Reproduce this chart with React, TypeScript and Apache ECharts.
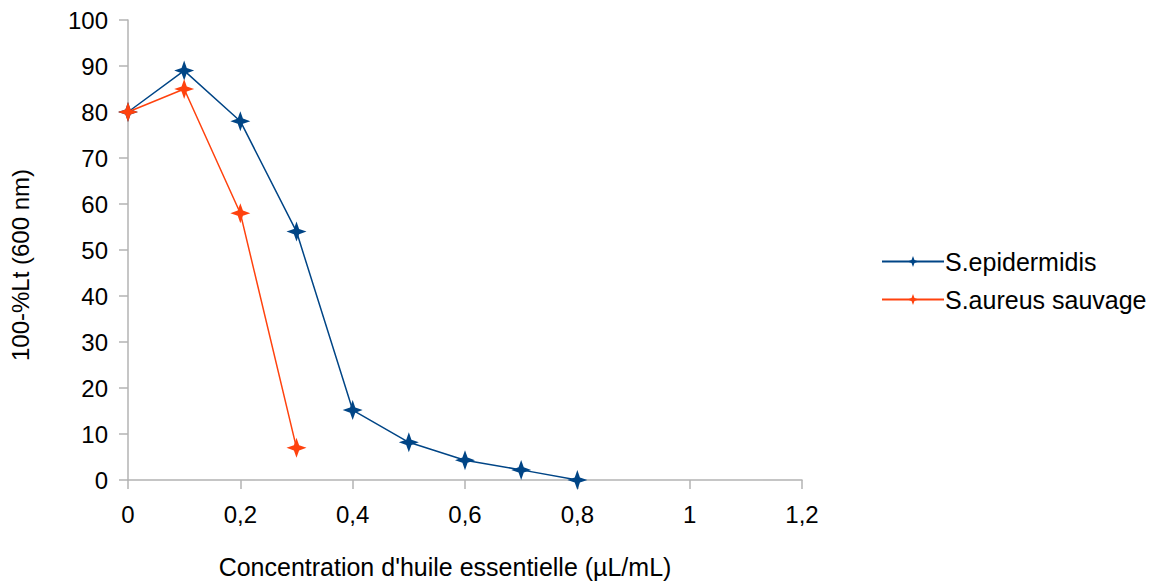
import React, { useEffect, useRef } from "react";
import * as echarts from "echarts";

const xValues = [0, 0.1, 0.2, 0.3, 0.4, 0.5, 0.6, 0.7, 0.8];
const epidermidis = [80, 89, 78, 54, 15.2, 8.2, 4.3, 2.2, 0];
const aureusX = [0, 0.1, 0.2, 0.3];
const aureus = [80, 85, 58, 7];
const seriesNames = ["S.epidermidis", "S.aureus sauvage"];

const star = "path://M0,-10 L2.6,-2.6 L10,0 L2.6,2.6 L0,10 L-2.6,2.6 L-10,0 L-2.6,-2.6 Z";
const font = "'Liberation Sans', Arial, sans-serif";

export default function App() {
  const ref = useRef<HTMLDivElement>(null);
  useEffect(() => {
    if (!ref.current) return;
    const chart = echarts.init(ref.current, undefined, { renderer: "svg" });
    chart.setOption({
      animation: false,
      textStyle: { fontFamily: font },
      grid: { left: 128, right: 360, top: 20, bottom: 103 },
      legend: {
        orient: "vertical",
        left: 876,
        top: 244,
        itemWidth: 62,
        itemHeight: 14,
        itemGap: 13,
        textStyle: { fontSize: 25, color: "#000", fontFamily: font, padding: [0, 0, 0, -4] },
        data: seriesNames,
      },
      xAxis: {
        type: "value",
        min: 0,
        max: 1.2,
        interval: 0.2,
        name: "Concentration d'huile essentielle (µL/mL)",
        nameLocation: "middle",
        nameGap: 74,
        nameTextStyle: { fontSize: 25, color: "#000", fontFamily: font, padding: [0, 40, 0, 0] },
        axisLine: { lineStyle: { color: "#b3b3b3", width: 1.5 } },
        axisTick: { length: 9, lineStyle: { color: "#b3b3b3", width: 1.5 } },
        axisLabel: {
          fontSize: 24,
          color: "#000",
          margin: 22,
          formatter: (v: number) => String(Math.round(v * 10) / 10).replace(".", ","),
        },
        splitLine: { show: false },
      },
      yAxis: {
        type: "value",
        min: 0,
        max: 100,
        interval: 10,
        name: "100-%Lt (600 nm)",
        nameLocation: "middle",
        nameGap: 96,
        nameTextStyle: { fontSize: 24, color: "#000", fontFamily: font, padding: [0, 30, 0, 0] },
        axisLine: { show: true, lineStyle: { color: "#b3b3b3", width: 1.5 } },
        axisTick: { show: true, length: 9, lineStyle: { color: "#b3b3b3", width: 1.5 } },
        axisLabel: { fontSize: 24, color: "#000", margin: 20 },
        splitLine: { show: false },
      },
      series: [
        {
          name: seriesNames[0],
          type: "line",
          data: xValues.map((x, i) => [x, epidermidis[i]]),
          symbol: star,
          symbolSize: 20,
          itemStyle: { color: "#004586" },
          lineStyle: { color: "#004586", width: 1.5 },
        },
        {
          name: seriesNames[1],
          type: "line",
          data: aureusX.map((x, i) => [x, aureus[i]]),
          symbol: star,
          symbolSize: 20,
          itemStyle: { color: "#ff420e" },
          lineStyle: { color: "#ff420e", width: 1.5 },
        },
      ],
    });
    return () => chart.dispose();
  }, []);
  return <div ref={ref} style={{ width: 1162, height: 584, position: "absolute", left: 0, top: 0 }} />;
}
